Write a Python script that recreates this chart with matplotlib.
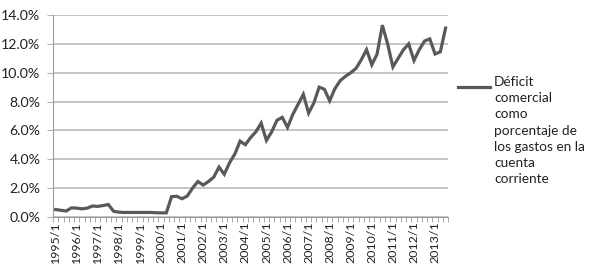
import matplotlib.pyplot as plt
import numpy as np
from matplotlib.lines import Line2D
from matplotlib.ticker import FixedLocator, FuncFormatter

# quarterly share (%), 1995Q1 - 2013Q3
deficit = [0.50, 0.45, 0.40, 0.62, 0.60, 0.55, 0.60, 0.75, 0.72, 0.78,
           0.85, 0.38, 0.32, 0.30, 0.30, 0.30, 0.30, 0.30, 0.30, 0.28,
           0.27, 0.27, 1.40, 1.42, 1.25, 1.45, 2.00, 2.45, 2.20, 2.45,
           2.75, 3.45, 2.95, 3.75, 4.35, 5.25, 5.00, 5.50, 5.90, 6.50,
           5.30, 5.90, 6.70, 6.90, 6.20, 7.10, 7.80, 8.50, 7.20, 7.90,
           9.00, 8.85, 8.05, 8.90, 9.45, 9.75, 10.00, 10.30, 10.90, 11.60,
           10.55, 11.30, 13.30, 12.00, 10.40, 11.00, 11.60, 12.00, 10.85, 11.60,
           12.20, 12.35, 11.30, 11.45, 13.10]
years = list(range(1995, 2014))
year_labels = [f'{y}/1' for y in years]
legend_label = 'Déficit\ncomercial\ncomo\nporcentaje de\nlos gastos en la\ncuenta\ncorriente'

plt.rcParams['font.family'] = ['Lato', 'DejaVu Sans']

fig = plt.figure(figsize=(5.89, 2.65), dpi=100)
ax = fig.add_axes([0.09, 0.182, 0.671, 0.761])

x = np.arange(len(deficit))
ax.plot(x, deficit, color='#595959', linewidth=2.3, solid_joinstyle='miter')

ax.set_xlim(-0.5, len(deficit) - 0.5)
ax.set_ylim(0, 14)
ax.set_yticks(np.arange(0, 15, 2))
ax.yaxis.set_major_formatter(FuncFormatter(lambda v, p: f'{v:.1f}%'))
ax.yaxis.grid(True, color='#b4b4b4', linewidth=1.1)
ax.set_axisbelow(True)

ax.set_xticks(np.arange(0, len(deficit), 4))
ax.set_xticklabels(year_labels, rotation=90)
ax.xaxis.set_minor_locator(FixedLocator(np.arange(-0.5, len(deficit), 1)))
ax.tick_params(axis='x', which='major', length=0, pad=3.5, labelsize=8.9,
               labelcolor='#222222')
ax.tick_params(axis='x', which='minor', length=3.5, color='#9a9a9a')
ax.tick_params(axis='y', length=4, color='#b4b4b4', pad=5, labelsize=10.2,
               labelcolor='#222222')

for s in ['top', 'right']:
    ax.spines[s].set_visible(False)
ax.spines['left'].set_color('#9a9a9a')
ax.spines['bottom'].set_color('#9a9a9a')

# legend drawn by hand so the key lines up with the first text line
fig.add_artist(Line2D([458 / 589, 490 / 589], [1 - 87 / 265, 1 - 87 / 265],
                      color='#595959', linewidth=2.3))
fig.text(494 / 589, 1 - 76 / 265, legend_label, ha='left', va='top',
         fontsize=9.8, color='#222222', linespacing=1.42)

plt.savefig('out.png', dpi=100)
